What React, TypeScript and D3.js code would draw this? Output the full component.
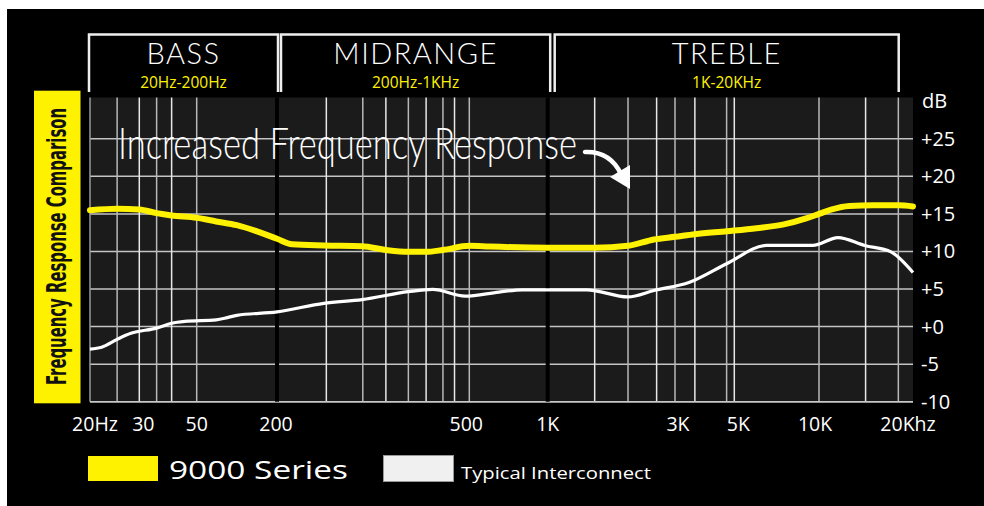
import * as d3 from "d3"

// frequency bands shown in the header boxes
const bandNames = ["BASS", "MIDRANGE", "TREBLE"]
const bandRanges = ["20Hz-200Hz", "200Hz-1KHz", "1K-20KHz"]
const bandStart = [20, 200, 1000]
const bandEnd = [200, 1000, 18000]

// x axis ticks and the extra grid lines
const tickFreqs = [20, 30, 50, 200, 500, 1000, 3000, 5000, 10000, 20000]
const tickLabels = ["20Hz", "30", "50", "200", "500", "1K", "3K", "5K", "10K", "20Khz"]
const gridFreqs = [25, 30, 35, 40, 50, 253, 301, 336, 374, 407, 441, 466, 500, 1500, 2000, 2560, 3000, 3560, 4680, 5000, 10000, 14100, 17950]

// y axis
const dbTicks = [25, 20, 15, 10, 5, 0, -5, -10]
const dbLabels = ["+25", "+20", "+15", "+10", "+5", "+0", "-5", "-10"]

// 9000 Series
const nineFreq = [20, 25, 30, 35, 40, 50, 70, 100, 140, 200, 215, 250, 300, 336, 374, 407, 441, 500, 600, 1000, 1500, 2000, 2500, 3000, 3560, 4700, 6000, 7500, 9000, 10000, 11000, 12500, 15000, 18000, 20000]
const nineDb = [15.5, 15.7, 15.6, 15.1, 14.8, 14.5, 14.0, 13.5, 12.7, 11.7, 10.95, 10.8, 10.7, 10.2, 9.95, 9.95, 10.2, 10.75, 10.65, 10.5, 10.5, 10.75, 11.6, 11.95, 12.3, 12.7, 13.1, 13.6, 14.4, 15.0, 15.6, 16.05, 16.15, 16.15, 16.0]

// Typical Interconnect
const typFreq = [20, 22, 25, 28, 35, 40, 45, 70, 85, 100, 200, 250, 300, 374, 420, 490, 650, 800, 1000, 1400, 2000, 2500, 3400, 4700, 6500, 9500, 11500, 14000, 17000, 20000]
const typDb = [-3.0, -2.75, -1.7, -0.9, -0.2, 0.45, 0.7, 0.9, 1.2, 1.5, 1.95, 3.1, 3.6, 4.65, 4.95, 4.05, 4.6, 4.9, 4.9, 4.9, 3.95, 4.8, 5.9, 8.4, 10.8, 10.8, 11.85, 10.8, 9.95, 7.2]

const YELLOW = "#fff200"

export default function App() {
  const W = 984
  const H = 506
  const left = 90
  const right = 913
  const top = 97.5
  const bottom = 401.7

  // hand-drawn axis: each labelled frequency has its own spot, log in between
  const x = d3.scaleLog().domain(tickFreqs).range([90, 139.3, 196.7, 277, 469.3, 547.7, 675, 734.3, 819, 913])
  const y = d3.scaleLinear().domain([-10, 30.5]).range([bottom, top])

  const line = d3
    .line<[number, number]>()
    .x((d) => x(d[0]))
    .y((d) => y(d[1]))
    .curve(d3.curveMonotoneX)

  const nineData = nineFreq.map((f, i) => [f, nineDb[i]] as [number, number])
  const typData = typFreq.map((f, i) => [f, typDb[i]] as [number, number])

  const padL = [-1, 4, 7]
  const padR = [1, 2.5, 0]
  const labelNudge = [5, 4, 0, -1, -3, 0, 3, 4, -4, -5]
  const font = "'Open Sans', 'DejaVu Sans', sans-serif"
  const thin = "Lato, 'Open Sans', sans-serif"

  return (
    <svg width={W} height={H} style={{ position: "absolute", left: 0, top: 0 }}>
      <rect x={0} y={0} width={W} height={H} fill="#fff" />
      <rect x={7} y={9} width={W - 7} height={H - 9} fill="#000" />

      {/* header boxes */}
      {bandNames.map((name, i) => {
        const x0 = x(bandStart[i]) + padL[i]
        const x1 = x(bandEnd[i]) + padR[i]
        const cx = (x0 + x1) / 2
        return (
          <g key={name}>
            <path d={`M${x0},92V34.5H${x1}V92`} fill="none" stroke="#eee" strokeWidth={2.5} />
            <text x={cx} y={64} textAnchor="middle" fill="#fff" fontFamily={thin} fontWeight={300} fontSize={29} letterSpacing={1.5}>
              {name}
            </text>
            <text x={cx} y={88} textAnchor="middle" fill={YELLOW} fontFamily={font} fontSize={15.5}>
              {bandRanges[i]}
            </text>
          </g>
        )
      })}

      {/* plot background */}
      <rect x={left} y={top} width={right - left} height={bottom - top} fill="#1b1b1b" />

      {/* grid */}
      {dbTicks.map((d) => (
        <line key={"h" + d} x1={left} x2={right} y1={y(d)} y2={y(d)} stroke="#c4c4c4" strokeWidth={1.5} />
      ))}
      {gridFreqs.map((f, i) => (
        <line key={"v" + f} x1={x(f)} x2={x(f)} y1={top} y2={bottom} stroke={i % 2 ? "#e8e8e8" : "#b8b8b8"} strokeWidth={1.5} />
      ))}
      <line x1={left} x2={left} y1={top} y2={bottom} stroke="#9a9a9a" strokeWidth={1.5} />
      <line x1={left} x2={right} y1={bottom} y2={bottom} stroke="#c8c8c8" strokeWidth={1.5} />
      {bandEnd.slice(0, 2).map((f) => (
        <line key={"b" + f} x1={x(f)} x2={x(f)} y1={top} y2={bottom} stroke="#000" strokeWidth={4} />
      ))}

      {/* annotation */}
      <text
        x={118}
        y={159}
        fill="#fff"
        fontFamily={thin}
        fontWeight={300}
        fontSize={43}
        textLength={459}
        lengthAdjust="spacingAndGlyphs"
      >
        Increased Frequency Response
      </text>
      <path d="M585,152 Q610,151 621,174" fill="none" stroke="#fff" strokeWidth={4.5} strokeLinecap="round" />
      <path d="M610,177 L630,165 L630,189 Z" fill="#fff" />

      {/* series */}
      <path d={line(typData) ?? ""} fill="none" stroke="#fff" strokeWidth={3.2} strokeLinejoin="round" />
      <path d={line(nineData) ?? ""} fill="none" stroke={YELLOW} strokeWidth={6} strokeLinejoin="round" strokeLinecap="round" />

      {/* y axis labels */}
      <text x={922} y={y(30)} dy="0.35em" fill="#fff" fontFamily={font} fontSize={20}>
        dB
      </text>
      {dbTicks.map((d, i) => (
        <text key={"yl" + d} x={921} y={y(d)} dy="0.35em" fill="#fff" fontFamily={font} fontSize={20}>
          {dbLabels[i]}
        </text>
      ))}

      {/* x axis labels */}
      {tickFreqs.map((f, i) => (
        <text key={"xl" + f} x={x(f) + labelNudge[i]} y={431} textAnchor="middle" fill="#fff" fontFamily={font} fontSize={19.5}>
          {tickLabels[i]}
        </text>
      ))}

      {/* left title */}
      <rect x={34} y={90.7} width={46.5} height={312.6} fill={YELLOW} />
      <text
        transform="translate(66,246.5) rotate(-90)"
        textAnchor="middle"
        fill="#111"
        fontFamily="'Liberation Sans Narrow', 'DejaVu Sans Condensed', sans-serif"
        fontWeight="bold"
        fontSize={27}
        textLength={277}
        lengthAdjust="spacingAndGlyphs"
      >
        Frequency Response Comparison
      </text>

      {/* legend */}
      <rect x={88} y={456} width={70} height={25} fill={YELLOW} />
      <text x={169} y={479} fill="#fff" fontFamily={font} fontSize={26} textLength={179} lengthAdjust="spacingAndGlyphs">
        9000 Series
      </text>
      <rect x={383.5} y={455.5} width={70} height={26} fill="#f0f0f0" stroke="#999" strokeWidth={1} />
      <text x={461} y={478.5} fill="#fff" fontFamily={font} fontSize={16} textLength={190} lengthAdjust="spacingAndGlyphs">
        Typical Interconnect
      </text>
    </svg>
  )
}
